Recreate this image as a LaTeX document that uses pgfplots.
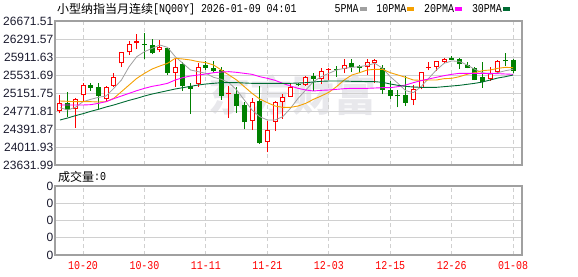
\documentclass[border=0pt]{standalone}
\usepackage{pgfplots}
\pgfplotsset{compat=1.18}
\usepackage{pgfplotstable}
\usepackage{fontspec}
\setmainfont{Liberation Sans}
\newfontfamily\cjk{Noto Sans CJK SC}
\newfontfamily\mono{Liberation Mono}[FakeStretch=0.83]
\definecolor{cRed}{HTML}{FF0000}
\definecolor{cGreen}{HTML}{008000}
\definecolor{mFive}{HTML}{A0A0A0}
\definecolor{mTen}{HTML}{F5A000}
\definecolor{mTwenty}{HTML}{FF00FF}
\definecolor{mThirty}{HTML}{006B33}
\definecolor{frameC}{HTML}{A0A0A0}
\definecolor{gridC}{HTML}{D0D0D0}
\definecolor{tickC}{HTML}{1A1A2E}
\definecolor{wmC}{HTML}{E8E8EC}

% up (red) candles: i open high low close
\pgfplotstableread{
i O H L C
0 24771.8 25102.5 24722.5 24933.6
2 24807.0 25039.1 24420.0 25018.0
3 25102.5 25369.8 24968.8 25313.5
6 25018.0 25299.5 24968.8 25271.3
7 25299.5 25566.8 25285.4 25496.5
8 25777.9 26015.0 25707.6 26010.1
9 26010.1 26256.4 25953.8 26179.0
10 26200.1 26397.1 26073.4 26242.3
13 26052.3 26270.4 26024.2 26115.6
15 25580.9 25862.4 25285.4 25707.6
18 25341.7 25777.9 25285.4 25707.6
22 25130.6 25299.5 24631.1 25158.8
25 24567.7 25039.1 24370.7 24968.8
27 24110.4 24560.7 23899.3 24370.7
28 24546.6 24989.9 24349.6 24968.8
29 24968.8 25130.6 24609.9 25060.2
30 25074.3 25369.8 25070.0 25285.4
32 25313.5 25510.6 25310.0 25482.4
34 25440.2 25686.5 25341.7 25616.1
35 25644.2 25686.5 25426.1 25658.3
37 25651.3 25862.4 25566.8 25742.7
40 25700.5 25862.4 25531.7 25806.1
41 25792.0 25862.4 25369.8 25848.3
46 25004.0 25320.6 24898.4 25229.1
47 25250.2 25602.0 25229.1 25587.9
48 25679.4 25799.0 25637.2 25693.5
49 25707.6 25834.2 25623.1 25820.1
50 25813.1 25890.5 25792.0 25862.4
56 25440.2 25707.6 25412.0 25580.9
57 25602.0 25848.3 25566.8 25820.1
}\upc

% down (green) candles: i open high low close
\pgfplotstableread{
i O H L C
1 24933.6 25172.8 24652.2 24792.9
4 25313.5 25369.8 25201.0 25257.3
5 25271.3 25355.8 24807.0 25088.4
11 26186.0 26425.2 25862.4 26171.9
12 26164.9 26284.5 25967.9 25989.0
14 26094.5 26108.6 25531.7 25580.9
16 25763.8 25813.1 25201.0 25299.5
17 25299.5 25355.8 24708.4 25243.2
19 25742.7 25834.2 25637.2 25686.5
20 25686.5 25834.2 25580.9 25616.1
21 25637.2 25707.6 25004.0 25088.4
23 25130.6 25285.4 24736.6 24877.3
24 24898.4 24968.8 24384.8 24532.5
26 24989.9 25299.5 24085.0 24089.3
31 25341.7 25369.8 25299.5 25327.6
33 25510.6 25566.8 25201.0 25440.2
36 25658.3 25728.7 25496.5 25644.2
38 25777.9 25862.4 25587.9 25707.6
39 25721.6 25742.7 25566.8 25686.5
42 25686.5 25742.7 25130.6 25215.0
43 25215.0 25405.0 25025.1 25088.4
44 25102.5 25215.0 24849.2 25081.4
45 25109.5 25510.6 24877.3 24947.7
51 25890.5 25932.7 25848.3 25855.3
52 25862.4 25897.5 25665.3 25756.8
53 25742.7 25806.1 25672.4 25686.5
54 25672.4 25693.5 25420.0 25426.1
55 25482.4 25806.1 25264.3 25390.9
58 25834.2 26003.1 25721.6 25820.1
59 25848.3 25862.4 25566.8 25623.1
}\downc

% moving averages
\pgfplotstableread{
i mfive mten mtwenty mthirty
0 24842.1 24982.9 24898.4 24581.8
1 24792.9 24975.8 24898.4 24624.0
2 24849.2 24968.8 24898.4 24673.3
3 24968.8 24968.8 24898.4 24715.5
4 25018.0 24968.8 24905.5 24764.7
5 25060.2 24961.7 24933.6 24807.0
6 25088.4 24968.8 24968.8 24856.2
7 25250.2 25039.1 25032.1 24898.4
8 25426.1 25179.9 25088.4 24947.7
9 25707.6 25320.6 25144.7 24996.9
10 25918.6 25461.3 25201.0 25039.1
11 26024.2 25566.8 25250.2 25088.4
12 26094.5 25658.3 25292.4 25130.6
13 26164.9 25721.6 25320.6 25165.8
14 26115.6 25777.9 25355.8 25201.0
15 25918.6 25883.5 25426.1 25236.1
16 25777.9 25869.4 25475.4 25264.3
17 25637.2 25848.3 25510.6 25292.4
18 25602.0 25813.1 25531.7 25320.6
19 25566.8 25792.0 25552.8 25341.7
20 25482.4 25742.7 25580.9 25355.8
21 25440.2 25637.2 25595.0 25369.8
22 25369.8 25531.7 25602.0 25369.8
23 25215.0 25426.1 25587.9 25369.8
24 25004.0 25285.4 25566.8 25362.8
25 24792.9 25144.7 25545.7 25355.8
26 24652.2 25025.1 25496.5 25355.8
27 24581.8 24947.7 25461.3 25355.8
28 24581.8 24877.3 25419.1 25355.8
29 24652.2 24849.2 25355.8 25355.8
30 24828.1 24849.2 25299.5 25355.8
31 25039.1 24877.3 25250.2 25362.8
32 25215.0 24933.6 25215.0 25369.8
33 25390.9 25018.0 25193.9 25383.9
34 25496.5 25088.4 25208.0 25398.0
35 25566.8 25165.8 25215.0 25405.0
36 25637.2 25285.4 25229.1 25405.0
37 25672.4 25426.1 25243.2 25405.0
38 25693.5 25531.7 25250.2 25398.0
39 25707.6 25580.9 25250.2 25398.0
40 25735.7 25637.2 25250.2 25390.9
41 25777.9 25651.3 25257.3 25390.9
42 25672.4 25651.3 25264.3 25376.9
43 25496.5 25580.9 25264.3 25341.7
44 25355.8 25531.7 25285.4 25313.5
45 25201.0 25482.4 25320.6 25292.4
46 25158.8 25426.1 25369.8 25278.4
47 25285.4 25419.1 25412.0 25271.3
48 25461.3 25426.1 25447.2 25271.3
49 25637.2 25426.1 25482.4 25271.3
50 25777.9 25454.3 25517.6 25285.4
51 25827.2 25461.3 25545.7 25299.5
52 25820.1 25496.5 25566.8 25313.5
53 25742.7 25545.7 25566.8 25334.7
54 25651.3 25580.9 25566.8 25355.8
55 25580.9 25623.1 25566.8 25383.9
56 25545.7 25637.2 25566.8 25426.1
57 25580.9 25672.4 25559.8 25468.3
58 25623.1 25693.5 25552.8 25496.5
59 25651.3 25686.5 25545.7 25531.7
}\matab

\pgfplotsset{
  kbase/.style={
    scale only axis, width=467pt,
    xmin=-0.65, xmax=60.15,
    xtick={3,11,19,27,35,43,51,59},
    scaled y ticks=false, scaled x ticks=false,
    major tick length=0pt,
    axis line style={frameC, line width=1.2pt},
    xmajorgrids, ymajorgrids,
    x grid style={gridC, line width=0.9pt, dash pattern=on 4pt off 3pt},
    y grid style={gridC, line width=0.9pt},
    yticklabel style={font=\fontsize{12}{12}\selectfont, text=tickC, inner xsep=1.5pt},
    clip=false,
  },
  wick/.style={draw=none, forget plot, error bars/.cd, y dir=plus, y explicit, error mark=none,
    error bar style={draw=#1, line width=1pt}},
  body/.style 2 args={draw=none, forget plot, error bars/.cd, y dir=plus, y explicit, error mark=none,
    error bar style={draw=#1, line width=#2}},
}

\begin{document}
\begin{tikzpicture}
\useasboundingbox (0pt,0pt) rectangle (578pt,276pt);
% watermark
\node[text=wmC, font=\cjk\bfseries\fontsize{42}{42}\selectfont, inner sep=0pt] at (292pt,181pt) {东方财富};
% title
\node[anchor=west, inner sep=0pt, font=\cjk\fontsize{12}{12}\selectfont] at (57pt,267pt) {小型纳指当月连续};
\node[anchor=west, inner sep=0pt, font=\mono\fontsize{12}{12}\selectfont] at (153pt,267pt) {[NQ00Y] 2026-01-09 04:01};
% volume caption
\node[anchor=west, inner sep=0pt, font=\cjk\fontsize{12}{12}\selectfont] at (58pt,99pt) {成交量};
\node[anchor=west, inner sep=0pt, font=\mono\fontsize{12}{12}\selectfont] at (94pt,99pt) {:0};

\begin{axis}[kbase,
  at={(55pt,111pt)}, anchor=south west, height=144pt,
  ymin=23631.99, ymax=26671.51,
  ytick={23631.99,24011.93,24391.87,24771.81,25151.75,25531.69,25911.63,26291.57,26671.51},
  yticklabels={23631.99,24011.93,24391.87,24771.81,25151.75,25531.69,25911.63,26291.57,26671.51},
  xticklabels={},
  legend columns=4,
  legend plot pos=right,
  legend style={at={(0.9743,1.0833)}, anchor=east, draw=none, fill=none, inner sep=0pt,
    font=\mono\fontsize{12}{12}\selectfont,
    nodes={inner xsep=1pt, inner ysep=0pt},
    /tikz/every even column/.append style={column sep=9pt}},
  legend image code/.code={\fill[#1] (0pt,-1.5pt) rectangle (6pt,1.5pt);},
]
% wicks
\addplot[wick=cRed] table[x=i, y=L, y error plus expr=\thisrow{H}-\thisrow{L}] {\upc};
\addplot[wick=cGreen] table[x=i, y=L, y error plus expr=\thisrow{H}-\thisrow{L}] {\downc};
% bodies
\addplot[body={cRed}{5pt}] table[x=i, y=O, y error plus expr={max(\thisrow{C}-\thisrow{O},21)}] {\upc};
\addplot[body={white}{3pt}] table[x=i, y expr=\thisrow{O}+21.1, y error plus expr={max(\thisrow{C}-\thisrow{O}-42.2,0)}] {\upc};
\addplot[body={cGreen}{5pt}] table[x=i, y=C, y error plus expr={max(\thisrow{O}-\thisrow{C},18)}] {\downc};
% moving averages
\addplot[color=mFive, line width=0.8pt] table[x=i, y=mfive] {\matab};
\addlegendentry{5PMA}
\addplot[color=mTen, line width=0.9pt] table[x=i, y=mten] {\matab};
\addlegendentry{10PMA}
\addplot[color=mTwenty, line width=0.9pt] table[x=i, y=mtwenty] {\matab};
\addlegendentry{20PMA}
\addplot[color=mThirty, line width=0.9pt] table[x=i, y=mthirty] {\matab};
\addlegendentry{30PMA}
\end{axis}

\begin{axis}[kbase,
  at={(55pt,21pt)}, anchor=south west, height=69pt,
  ymin=0, ymax=4,
  ytick={0,1,2,3,4}, yticklabels={0,0,0,0,0},
  xticklabels={10-20,10-30,11-11,11-21,12-03,12-15,12-26,01-08},
  xticklabel style={text=red, font=\mono\fontsize{12}{12}\selectfont, yshift=-3pt},
]
\addplot[draw=none] coordinates {(0,0) (59,0)};
\end{axis}
\end{tikzpicture}
\end{document}
